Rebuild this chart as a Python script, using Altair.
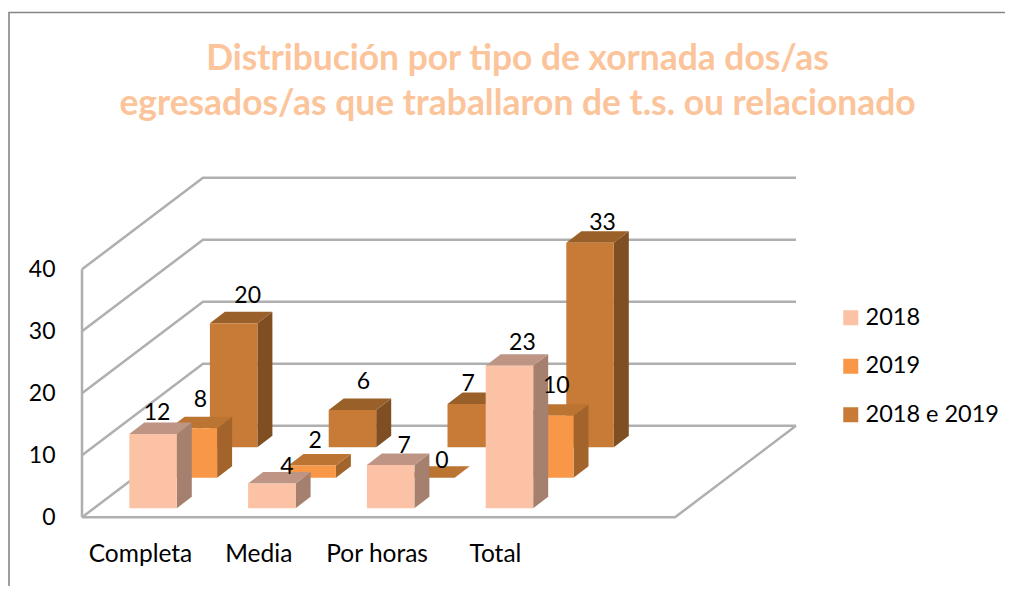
import altair as alt
import pandas as pd

# ---- values
CATEGORIES = ["Completa", "Media", "Por horas", "Total"]
SERIES = ["2018", "2019", "2018 e 2019"]
V_2018 = [12, 4, 7, 23]
V_2019 = [8, 2, 0, 10]
V_BOTH = [20, 6, 7, 33]
VALUES = {"2018": V_2018, "2019": V_2019, "2018 e 2019": V_BOTH}
TICKS = [0, 10, 20, 30, 40]
TITLE_LINES = ["Distribución por tipo de xornada dos/as",
               "egresados/as que traballaron de t.s. ou relacionado"]

# ---- styles
FRONT = {"2018": "#FBC2A6", "2019": "#F89747", "2018 e 2019": "#C87B36"}
TOP = {"2018": "#BE9584", "2019": "#BC7433", "2018 e 2019": "#9A602A"}
SIDE = {"2018": "#A5806F", "2019": "#A2642B", "2018 e 2019": "#7F4E22"}
GRID = "#AFAFAF"
BORDER = "#858585"
TITLE_COLOR = "#FCC49A"
FONT = "Lato"

# ---- oblique projection (screen px horizontally, chart units vertically)
PX_PER_UNIT = 6.2
FLOOR_Y = 517.3
CHART_W, CHART_H = 997, 578
AXIS_X = 82
X_FIRST, X_STEP, X_DEPTH = 129.3, 118.8, 40.3
BAR_W = 47.5
SIDE_DX, SIDE_DY = 15.0, 11.5 / PX_PER_UNIT
DEPTH_RISE = 30.5 / PX_PER_UNIT
BAR_LIFT = 9.0 / PX_PER_UNIT
WALL_DX, WALL_RISE = 121, 91.5 / PX_PER_UNIT
FLOOR_W = 593
TOP_Y = (FLOOR_Y - 8) / PX_PER_UNIT
BOTTOM_Y = (FLOOR_Y - 8 - CHART_H) / PX_PER_UNIT
# label nudges from the top centre of each bar's front face: px right, px up
NUDGES = {"2018": [(4, 21), (15, 17), (13.5, 19), (13, 23)],
          "2019": [(7, 28), (3, 24), (11, 17), (6.5, 30)],
          "2018 e 2019": [(14, 27), (11, 28), (-3, 20), (12.5, 20)]}

xs = alt.Scale(domain=[8, 8 + CHART_W], range=[0, CHART_W], nice=False, zero=False)
ys = alt.Scale(domain=[BOTTOM_Y, TOP_Y], range=[CHART_H, 0], nice=False, zero=False)
X = lambda f="x": alt.X(f"{f}:Q", scale=xs, axis=None)

front, side, top, labels = [], [], [], []
for d, s in enumerate(SERIES):
    for i, c in enumerate(CATEGORIES):
        v = VALUES[s][i]
        x0 = X_FIRST + i * X_STEP + d * X_DEPTH
        x1 = x0 + BAR_W
        b = BAR_LIFT + d * DEPTH_RISE
        t = b + v
        key = f"{s}|{c}"
        front.append(dict(series=s, x=x0, x2=x1, y=b, y2=t))
        side += [dict(series=s, key=key, x=x1, y=b, y2=t),
                 dict(series=s, key=key, x=x1 + SIDE_DX, y=b + SIDE_DY, y2=t + SIDE_DY)]
        top += [dict(series=s, key=key, y=t, x=x0, x2=x1),
                dict(series=s, key=key, y=t + SIDE_DY, x=x0 + SIDE_DX, x2=x1 + SIDE_DX)]
        nx, ny = NUDGES[s][i]
        labels.append(dict(x=x0 + BAR_W / 2 + nx, y=t + ny / PX_PER_UNIT, text=str(v)))
front, side, top = map(pd.DataFrame, (front, side, top))

# walls and floor
lines = []
for k in TICKS:
    lines += [dict(g=f"t{k}", o=0, x=AXIS_X, y=k),
              dict(g=f"t{k}", o=1, x=AXIS_X + WALL_DX, y=k + WALL_RISE),
              dict(g=f"t{k}", o=2, x=AXIS_X + WALL_DX + FLOOR_W, y=k + WALL_RISE)]
lines += [dict(g="floor", o=0, x=AXIS_X, y=0),
          dict(g="floor", o=1, x=AXIS_X + FLOOR_W, y=0),
          dict(g="floor", o=2, x=AXIS_X + WALL_DX + FLOOR_W, y=WALL_RISE),
          dict(g="axis", o=0, x=AXIS_X, y=0),
          dict(g="axis", o=1, x=AXIS_X, y=TICKS[-1])]
lines = pd.DataFrame(lines)

border = pd.DataFrame([dict(o=0, x=9, y=BOTTOM_Y),
                       dict(o=1, x=9, y=(FLOOR_Y - 12.5) / PX_PER_UNIT),
                       dict(o=2, x=8 + CHART_W, y=(FLOOR_Y - 12.5) / PX_PER_UNIT)])

layers = [
    alt.Chart(lines).mark_line(color=GRID, strokeWidth=2.5).encode(
        X(),
        alt.Y("y:Q", scale=ys, title=None,
              axis=alt.Axis(values=TICKS, domain=False, ticks=False, grid=False, labelPadding=0,
                            labelFont=FONT, labelFontSize=23, labelColor="black", offset=-47)),
        detail="g:N", order="o:Q"),
    alt.Chart(border).mark_line(color=BORDER, strokeWidth=1.6).encode(X(), alt.Y("y:Q", scale=ys), order="o:Q"),
]
for s in reversed(SERIES):
    layers += [
        alt.Chart(side[side.series == s]).mark_area(color=SIDE[s], orient="vertical").encode(
            X(), alt.Y("y:Q", scale=ys), alt.Y2("y2:Q"), detail="key:N"),
        alt.Chart(top[top.series == s]).mark_area(color=TOP[s], orient="horizontal").encode(
            X(), alt.X2("x2:Q"), alt.Y("y:Q", scale=ys), detail="key:N"),
        alt.Chart(front[front.series == s]).mark_rect().encode(
            X(), alt.X2("x2:Q"), alt.Y("y:Q", scale=ys), alt.Y2("y2:Q"),
            color=alt.Color("series:N",
                            scale=alt.Scale(domain=SERIES, range=[FRONT[k] for k in SERIES]),
                            legend=alt.Legend(orient="none", legendX=831, legendY=298, title=None,
                                              symbolType="square", symbolSize=225, symbolStrokeWidth=0,
                                              labelFont=FONT, labelFontSize=23.5, labelColor="black",
                                              rowPadding=23.5, labelOffset=3))),
    ]
layers.append(
    alt.Chart(pd.DataFrame(labels)).mark_text(font=FONT, fontSize=23, color="black").encode(
        X(), alt.Y("y:Q", scale=ys), text="text:N"))
cat_df = pd.DataFrame(dict(text=CATEGORIES,
                           x=[140.5 + i * 118.3 for i in range(len(CATEGORIES))],
                           y=[(FLOOR_Y - 554.5) / PX_PER_UNIT] * len(CATEGORIES)))
layers.append(alt.Chart(cat_df).mark_text(font=FONT, fontSize=24.5, color="black").encode(
    X(), alt.Y("y:Q", scale=ys), text="text:N"))

chart = alt.layer(*layers).properties(
    width=CHART_W, height=CHART_H, padding=0,
    autosize=alt.AutoSizeParams(type="none"),
    background="white",
    title=alt.Title(text=TITLE_LINES, font=FONT, fontSize=35.4, fontWeight="bold", color=TITLE_COLOR,
                    anchor="middle", dx=11, offset=-114, lineHeight=44.5),
).configure_view(stroke=None)

chart.save("out.html", embed_options={"renderer": "svg", "actions": False})
